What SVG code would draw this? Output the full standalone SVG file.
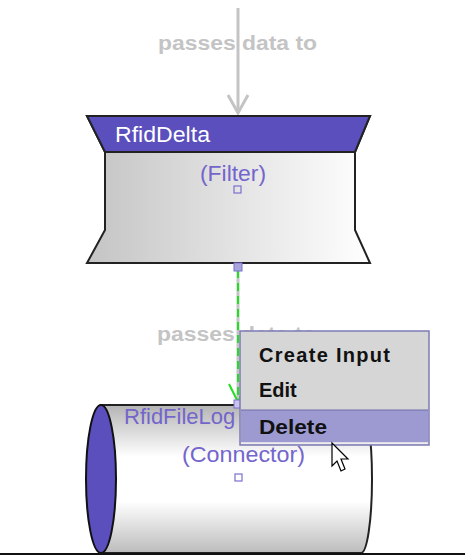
<svg xmlns="http://www.w3.org/2000/svg" width="465" height="557" viewBox="0 0 465 557">
<style>
.lbl{font-family:"Liberation Sans",Arial,sans-serif;font-weight:bold;font-size:20px;fill:#c4c4c4}
.title{font-family:"Liberation Sans",Arial,sans-serif;font-size:22px}
.menu{font-family:"Liberation Sans",Arial,sans-serif;font-weight:bold;font-size:20px;fill:#111}
.edge{stroke:#c4c4c4;stroke-width:3;fill:none}
.sq{fill:none;stroke:#7a70d0;stroke-width:1.2}
</style>
<defs>
<linearGradient id="gF" x1="0" y1="0" x2="1" y2="0">
<stop offset="0" stop-color="#c4c4c4"/><stop offset="0.5" stop-color="#e2e2e2"/><stop offset="1" stop-color="#ffffff"/>
</linearGradient>
<linearGradient id="gC" x1="0" y1="0" x2="0" y2="1">
<stop offset="0" stop-color="#b4b4b4"/><stop offset="0.35" stop-color="#ffffff"/><stop offset="0.65" stop-color="#ffffff"/><stop offset="1" stop-color="#bcbcbc"/>
</linearGradient>
</defs>
<rect width="465" height="557" fill="#ffffff"/>
<g id="connectors">
<text class="lbl" x="158" y="50" textLength="159" lengthAdjust="spacingAndGlyphs">passes data to</text>
<line x1="238" y1="8" x2="238" y2="113" stroke="#ffffff" stroke-width="5"/>
<line class="edge" x1="238" y1="8" x2="238" y2="113"/>
<polyline class="edge" points="228,95 238,113 248,95"/>
<text class="lbl" x="157" y="341" textLength="159" lengthAdjust="spacingAndGlyphs">passes data to</text>
<line class="edge" x1="238" y1="268" x2="238" y2="404"/>
<line x1="238" y1="270" x2="238" y2="404" stroke="#22dd22" stroke-width="2" stroke-dasharray="8,5"/>
<polyline points="229,384 238,402 247,384" fill="none" stroke="#22dd22" stroke-width="2"/>
</g>
<g id="filter">
<polygon points="87,116 370,116 355,152 355,230 370,263 87,263 105,230 105,152" fill="url(#gF)" stroke="#222" stroke-width="2"/>
<polygon points="87,116 370,116 355,152 105,152" fill="#5a4fbd" stroke="#222" stroke-width="2"/>
<text class="title" x="115" y="142" fill="#ffffff" textLength="95" lengthAdjust="spacingAndGlyphs">RfidDelta</text>
<text class="title" x="200" y="181" fill="#7365cc" textLength="66" lengthAdjust="spacingAndGlyphs">(Filter)</text>
<rect class="sq" x="234" y="186" width="7" height="7"/>
<rect x="234" y="263" width="8" height="8" fill="#a8a4dc" stroke="#7a70d0"/>
</g>
<g id="connector-node">
<path d="M101,405 L361,405 A11,74 0 0 1 361,553 L101,553 Z" fill="url(#gC)" stroke="#222" stroke-width="2"/>
<ellipse cx="101" cy="479" rx="15" ry="74" fill="#5a4fbd" stroke="#111" stroke-width="2"/>
<text class="title" x="124" y="424" fill="#7365cc">RfidFileLog</text>
<text class="title" x="182" y="462" fill="#7365cc" textLength="123" lengthAdjust="spacingAndGlyphs">(Connector)</text>
<rect class="sq" x="235" y="474" width="7" height="7"/>
<rect x="234" y="400" width="8" height="8" fill="#c8c4ec" stroke="#7a70d0"/>
</g>
<line x1="0" y1="554" x2="465" y2="554" stroke="#111" stroke-width="2"/>
<g id="context-menu">
<rect x="240" y="331" width="189" height="114" fill="#d6d6d6" stroke="#7d7bb5" stroke-width="1.5"/>
<rect x="241" y="410" width="187" height="33" fill="#9c9ad0"/>
<line x1="241" y1="410" x2="428" y2="410" stroke="#6e6ca8" stroke-width="1"/>
<line x1="241" y1="443" x2="428" y2="443" stroke="#f4f4f4" stroke-width="1.5"/>
<text class="menu" x="259" y="362" textLength="131">Create Input</text>
<text class="menu" x="259" y="397">Edit</text>
<text class="menu" x="259" y="434" textLength="68" lengthAdjust="spacingAndGlyphs">Delete</text>
</g>
<g id="cursor">
<path d="M332,443 L332,466 L337,461 L341,471 L345,469 L341,459 L348,459 Z" fill="#ffffff" stroke="#000" stroke-width="1.2"/>
</g>
</svg>
